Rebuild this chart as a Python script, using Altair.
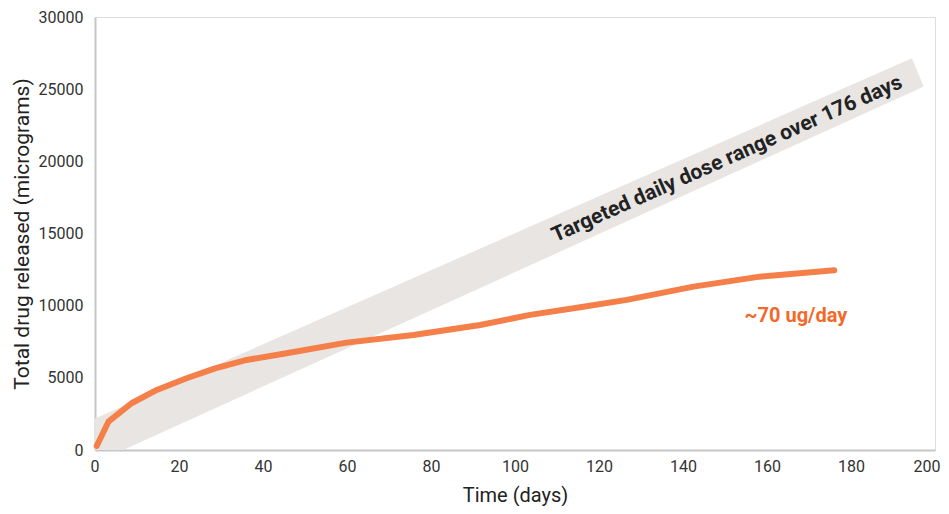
import altair as alt
import pandas as pd

# Release curve (days, cumulative micrograms)
days = [0.4, 3.2, 8.7, 14.7, 21.8, 28.6, 36.1, 45.6, 59.9, 75.8, 91.7, 103.6, 115.5, 126.6, 142.5, 158.3, 176.0]
released = [280, 1960, 3240, 4160, 4970, 5660, 6240, 6700, 7440, 7970, 8660, 9360, 9890, 10400, 11320, 12010, 12450]

# Targeted dose band (days, lower and upper cumulative micrograms)
band_days = [0, 6.7, 194.5, 197.3]
band_upper = [2190, 3050, 27145, 25177]
band_lower = [0, 0, 24808, 25177]

x_ticks = list(range(0, 201, 20))
y_ticks = list(range(0, 30001, 5000))

line_df = pd.DataFrame({"day": days, "ug": released})
band_df = pd.DataFrame({"day": band_days, "lo": band_lower, "hi": band_upper})

FONT = "Roboto"
x_scale = alt.Scale(domain=[0, 200], nice=False, zero=True)
y_scale = alt.Scale(domain=[0, 30000], nice=False)

x_axis = alt.Axis(title="Time (days)", values=x_ticks, format="d", grid=False, ticks=False,
                  labelFlush=True, labelFlushOffset=5, domainColor="#c6c6c6", domainWidth=2,
                  labelFont=FONT, labelFontSize=16, labelColor="#333333", labelPadding=8,
                  titleFont=FONT, titleFontSize=20, titleFontWeight="normal", titleColor="#222222",
                  titlePadding=11)
y_axis = alt.Axis(title="Total drug released (micrograms)", values=y_ticks, format="d", grid=False,
                  ticks=False, labelFlush=False, domainColor="#c6c6c6", domainWidth=2,
                  labelFont=FONT, labelFontSize=16, labelColor="#333333", labelPadding=12,
                  titleFont=FONT, titleFontSize=21, titleFontWeight="normal", titleColor="#222222",
                  titlePadding=6)

band = alt.Chart(band_df).mark_area(color="#e8e5e2", opacity=1).encode(
    x=alt.X("day:Q", scale=x_scale, axis=x_axis),
    y=alt.Y("hi:Q", scale=y_scale, axis=y_axis),
    y2="lo:Q",
)

line = alt.Chart(line_df).mark_line(color="#f47f48", strokeWidth=6, strokeCap="round",
                                    strokeJoin="round").encode(
    x=alt.X("day:Q", scale=x_scale),
    y=alt.Y("ug:Q", scale=y_scale),
)

band_label = alt.Chart(pd.DataFrame({"t": ["Targeted daily dose range over 176 days"]})).mark_text(
    font=FONT, fontSize=21, fontWeight="bold", color="#222222", angle=336,
    align="center", baseline="middle",
).encode(x=alt.datum(150.5), y=alt.datum(20150), text="t:N")

rate_label = alt.Chart(pd.DataFrame({"t": ["~70 ug/day"]})).mark_text(
    font=FONT, fontSize=20, fontWeight="bold", color="#f26a2b",
    align="center", baseline="middle",
).encode(x=alt.datum(166.9), y=alt.datum(9290), text="t:N")

chart = alt.layer(band, line, band_label, rate_label).properties(
    width=840, height=433,
    autosize=alt.AutoSizeParams(type="none"),
    padding={"left": 87, "top": 9, "right": 6, "bottom": 56},
).configure_view(stroke=None).configure(background="white")

chart.save("out.html", embed_options={"renderer": "svg", "actions": False})
